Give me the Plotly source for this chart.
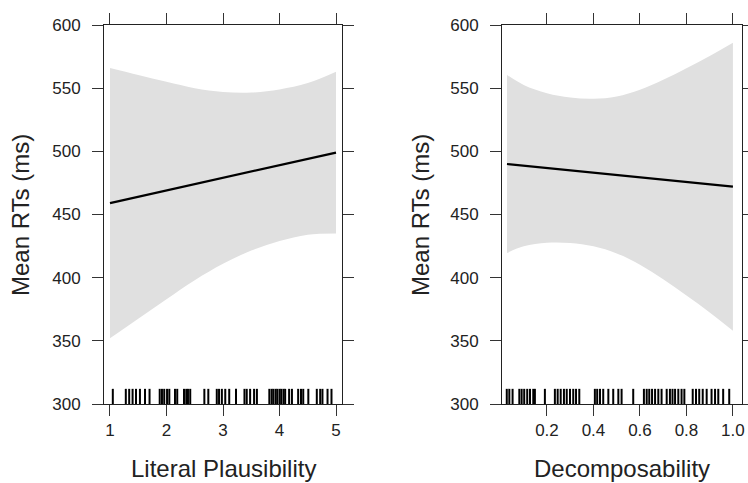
import plotly.graph_objects as go

# Left panel: Literal Plausibility
lit_x = [1, 1.5, 2, 2.5, 3, 3.5, 4, 4.5, 5]
lit_fit = [459, 464, 469, 474, 479, 484, 489, 494, 499]
lit_upper = [566, 560.5, 555, 550, 547, 546.5, 549, 554, 563]
lit_lower = [352, 367.5, 383, 398, 411, 421.5, 429, 434, 435]
lit_rug = [1.05, 1.28, 1.34, 1.40, 1.46, 1.53, 1.62, 1.70, 1.88, 1.92, 1.96,
           2.01, 2.05, 2.15, 2.19, 2.31, 2.35, 2.38, 2.42, 2.67, 2.74, 2.89,
           2.93, 2.98, 3.04, 3.11, 3.23, 3.38, 3.42, 3.48, 3.55, 3.60, 3.82,
           3.86, 3.89, 3.93, 3.96, 4.00, 4.03, 4.07, 4.10, 4.17, 4.22, 4.33,
           4.38, 4.42, 4.51, 4.66, 4.72, 4.76, 4.85, 4.92]

# Right panel: Decomposability
dec_x = [0.028, 0.1, 0.2, 0.3, 0.4, 0.5, 0.6, 0.7, 0.8, 0.9, 1.0]
dec_fit = [490, 488.7, 486.8, 485, 483.2, 481.3, 479.5, 477.7, 475.8, 474, 472]
dec_upper = [560.5, 552.6, 546, 542.6, 541.6, 543.4, 548.7, 556.6, 565.8, 575.5, 586]
dec_lower = [419.5, 424.8, 427.6, 427.4, 424.8, 419.2, 410.3, 398.8, 385.8, 372.5, 358]
dec_rug = [0.027, 0.038, 0.052, 0.081, 0.091, 0.102, 0.115, 0.127, 0.141, 0.148,
           0.191, 0.234, 0.246, 0.259, 0.273, 0.285, 0.299, 0.313, 0.325, 0.339,
           0.406, 0.416, 0.428, 0.442, 0.464, 0.485, 0.507, 0.521, 0.571, 0.617,
           0.629, 0.640, 0.652, 0.665, 0.679, 0.693, 0.715, 0.729, 0.740, 0.751,
           0.765, 0.779, 0.791, 0.827, 0.841, 0.855, 0.870, 0.887, 0.908, 0.923,
           0.937, 0.958, 0.984]

y_ticks = [300, 350, 400, 450, 500, 550, 600]
lit_ticks = [1, 2, 3, 4, 5]
dec_ticks = [0.2, 0.4, 0.6, 0.8, 1.0]
dec_labels = ['0.2', '0.4', '0.6', '0.8', '1.0']

RUG_TOP = 312
W, H = 748, 483
FONT = 'Liberation Sans, Arial'


def fx(px):
    return px / W


def fy(py):
    return 1 - py / H


def rug_xy(vals):
    xs, ys = [], []
    for v in vals:
        xs += [v, v, None]
        ys += [300, RUG_TOP, None]
    return xs, ys


def add_panel(fig, x, fit, upper, lower, rug, xa, ya):
    fig.add_trace(go.Scatter(x=x, y=lower, mode='lines', line=dict(width=0, shape='spline'),
                             xaxis=xa, yaxis=ya, hoverinfo='skip', showlegend=False))
    fig.add_trace(go.Scatter(x=x, y=upper, mode='lines', line=dict(width=0, shape='spline'),
                             fill='tonexty', fillcolor='#e0e0e0',
                             xaxis=xa, yaxis=ya, hoverinfo='skip', showlegend=False))
    fig.add_trace(go.Scatter(x=x, y=fit, mode='lines', line=dict(color='black', width=2.2),
                             xaxis=xa, yaxis=ya, showlegend=False))
    rx, ry = rug_xy(rug)
    fig.add_trace(go.Scatter(x=rx, y=ry, mode='lines', line=dict(color='black', width=2),
                             xaxis=xa, yaxis=ya, hoverinfo='skip', showlegend=False))


fig = go.Figure()
add_panel(fig, lit_x, lit_fit, lit_upper, lit_lower, lit_rug, 'x', 'y')
add_panel(fig, dec_x, dec_fit, dec_upper, dec_lower, dec_rug, 'x2', 'y2')

axis_style = dict(showgrid=False, zeroline=False, showline=True, linecolor='#222',
                  linewidth=1, mirror='ticks', ticks='outside', ticklen=11,
                  tickcolor='#333', tickwidth=1, automargin=False,
                  tickfont=dict(family=FONT, size=17, color='#222'))

y_dom = [fy(404), fy(25)]

fig.update_layout(
    width=W, height=H,
    margin=dict(l=0, r=0, t=0, b=0, pad=0),
    plot_bgcolor='white', paper_bgcolor='white',
    xaxis=dict(axis_style, domain=[fx(104), fx(342)], range=[0.894, 5.106],
               tickvals=lit_ticks, anchor='y'),
    yaxis=dict(axis_style, domain=y_dom, range=[300, 600], tickvals=y_ticks,
               ticklabelstandoff=8, anchor='x'),
    xaxis2=dict(axis_style, domain=[fx(502), fx(742)], range=[0.0065, 1.039],
                tickvals=dec_ticks, ticktext=dec_labels, anchor='y2'),
    yaxis2=dict(axis_style, domain=y_dom, range=[300, 600], tickvals=y_ticks,
                ticklabelstandoff=8, anchor='x2'),
)

# axis titles placed as annotations in page pixel positions
titles = [
    ('Literal Plausibility', 223, 468, 0),
    ('Decomposability', 622, 468, 0),
    ('Mean RTs (ms)', 20, 215, -90),
    ('Mean RTs (ms)', 420, 215, -90),
]
for text, px, py, ang in titles:
    fig.add_annotation(text=text, x=fx(px), y=fy(py), xref='paper', yref='paper',
                       xanchor='center', yanchor='middle', showarrow=False, textangle=ang,
                       font=dict(family=FONT, size=24, color='#222'))

# drop the default body margin so the figure fills the window exactly
fig.write_html('out.html', config={'displayModeBar': False},
               post_script="document.body.style.margin='0';document.body.style.overflow='hidden';")
